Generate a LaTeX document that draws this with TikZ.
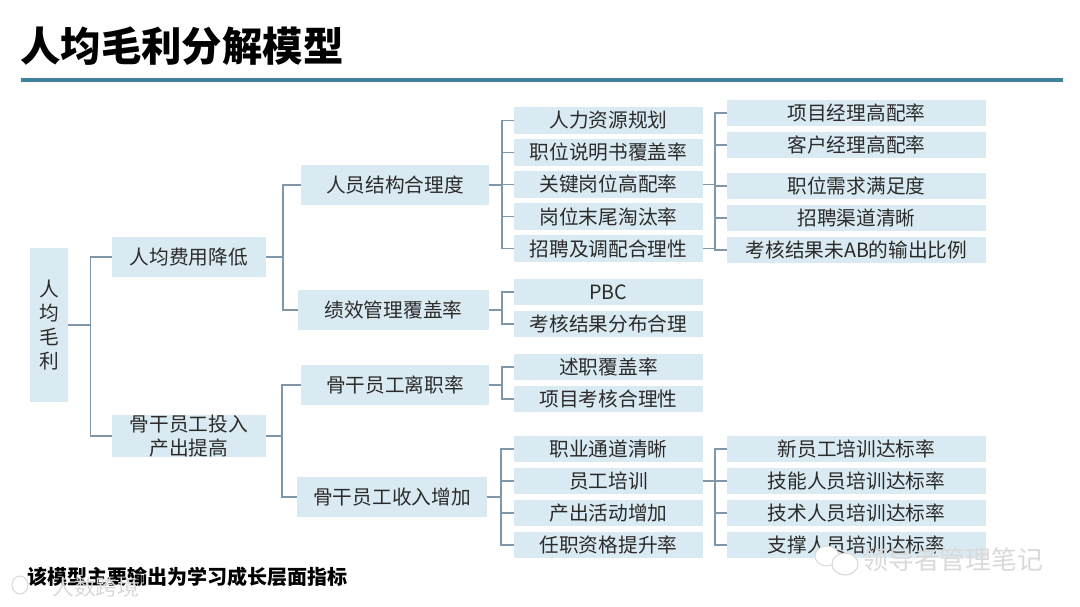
\documentclass[tikz,border=0pt]{standalone}
\usepackage{fontspec}
\setmainfont{Noto Sans CJK SC}
\usetikzlibrary{positioning}
\definecolor{boxblue}{HTML}{D9EAF2}
\definecolor{linkgray}{HTML}{7F97A8}
\definecolor{ruleteal}{HTML}{3F8299}
\definecolor{inkgray}{HTML}{2B2B2B}
\tikzset{
  box/.style={fill=boxblue, text=inkgray, font=\fontsize{11.2}{13.5}\selectfont, inner sep=0pt, align=center},
  leafa/.style={box, minimum width=107.1pt, minimum height=15.3pt},
  leafb/.style={box, minimum width=146.9pt, minimum height=15.3pt},
  midbox/.style={box, minimum height=22.7pt},
  link/.style={draw=linkgray, line width=0.75pt},
  wmark/.style={text=gray!30, inner sep=0pt, anchor=west},
  bubble/.style={draw=gray!30, fill=white, line width=0.6pt}
}
\begin{document}
\begin{tikzpicture}[x=0.02cm, y=-0.02cm]
\useasboundingbox (0,0) rectangle (1080,607);
\node[anchor=west, inner sep=0pt, font=\fontsize{23}{27}\selectfont\bfseries] (title) at (20,46) {人均毛利分解模型};
\coordinate (ruleL) at (21,80);
\coordinate (ruleR) at (1063,80);
\draw[ruleteal, line width=1.8pt] (ruleL) -- (ruleR);
% first columns
\node[box, minimum width=21.5pt, minimum height=87.3pt, font=\fontsize{11.2}{13.8}\selectfont] (root) at (49,325) {人\\均\\毛\\利};
\node[midbox, minimum width=87.3pt] (cost) at (189,257) {人均费用降低};
\node[midbox, minimum width=87.3pt] (core) at (189,436) {骨干员工投入\\产出提高};
\node[midbox, minimum width=106.6pt] (staff) at (395,185) {人员结构合理度};
\node[midbox, minimum width=108.3pt] (perf) at (393.5,310) {绩效管理覆盖率};
\node[midbox, minimum width=106.6pt] (quit) at (395,385) {骨干员工离职率};
\node[midbox, minimum width=107.7pt] (income) at (392,497) {骨干员工收入增加};
% third column
\node[leafa] (plan) at (608.5,120.5) {人力资源规划};
\node[leafa] (post) at (608.5,152.5) {职位说明书覆盖率};
\node[leafa] (key) at (608.5,184.5) {关键岗位高配率};
\node[leafa] (tail) at (608.5,216.5) {岗位末尾淘汰率};
\node[leafa] (hire) at (608.5,248.5) {招聘及调配合理性};
\node[leafa] (pbc) at (608.5,292) {PBC};
\node[leafa] (dist) at (608.5,324) {考核结果分布合理};
\node[leafa] (report) at (608.5,367) {述职覆盖率};
\node[leafa] (proj) at (608.5,399) {项目考核合理性};
\node[leafa] (path) at (608.5,449) {职业通道清晰};
\node[leafa] (train) at (608.5,481) {员工培训};
\node[leafa] (output) at (608.5,513) {产出活动增加};
\node[leafa] (grade) at (608.5,545) {任职资格提升率};
% fourth column
\node[leafb] (pm) at (856.5,113) {项目经理高配率};
\node[leafb] (am) at (856.5,145) {客户经理高配率};
\node[leafb] (need) at (856.5,186) {职位需求满足度};
\node[leafb] (channel) at (856.5,218) {招聘渠道清晰};
\node[leafb] (ratio) at (856.5,250) {考核结果未AB的输出比例};
\node[leafb] (newhire) at (856.5,449) {新员工培训达标率};
\node[leafb] (skill) at (856.5,481) {技能人员培训达标率};
\node[leafb] (tech) at (856.5,513) {技术人员培训达标率};
\node[leafb] (support) at (856.5,545) {支撑人员培训达标率};
\node[anchor=west, inner sep=0pt, font=\fontsize{11.4}{13.5}\selectfont\bfseries] (note) at (27,577) {该模型主要输出为学习成长层面指标};
% marks over the page
\node[wmark, font=\fontsize{12.4}{15}\selectfont] (markL) at (52,587) {人数跨境};
\node[wmark, font=\fontsize{14.7}{17}\selectfont] (markR) at (862,560) {领导者管理笔记};
\draw[bubble] (827,556) ellipse (12 and 10);
\draw[bubble] (845,564) ellipse (13 and 11);
\draw[bubble] (20,585) ellipse (8 and 9);
% connectors
\draw[link] (root.east) -- ++(22,0) |- (cost.west);
\draw[link] (root.east) -- ++(22,0) |- (core.west);
\draw[link] (cost.east) -- ++(17,0) |- (staff.west);
\draw[link] (cost.east) -- ++(17,0) |- (perf.west);
\draw[link] (core.east) -- ++(16,0) |- (quit.west);
\draw[link] (core.east) -- ++(16,0) |- (income.west);
\draw[link] (staff.east) -- ++(13,0) |- (plan.west);
\draw[link] (staff.east) -- ++(13,0) |- (post.west);
\draw[link] (staff.east) -- ++(13,0) |- (key.west);
\draw[link] (staff.east) -- ++(13,0) |- (tail.west);
\draw[link] (staff.east) -- ++(13,0) |- (hire.west);
\draw[link] (perf.east) -- ++(13,0) |- (pbc.west);
\draw[link] (perf.east) -- ++(13,0) |- (dist.west);
\draw[link] (quit.east) -- ++(13,0) |- (report.west);
\draw[link] (quit.east) -- ++(13,0) |- (proj.west);
\draw[link] (income.east) -- ++(14,0) |- (path.west);
\draw[link] (income.east) -- ++(14,0) |- (train.west);
\draw[link] (income.east) -- ++(14,0) |- (output.west);
\draw[link] (income.east) -- ++(14,0) |- (grade.west);
\draw[link] (key.east) -- ++(12,0) |- (pm.west);
\draw[link] (key.east) -- ++(12,0) |- (am.west);
\draw[link] (key.east) -- ++(12,0) |- (need.west);
\draw[link] (key.east) -- ++(12,0) |- (channel.west);
\draw[link] (hire.east) -- ++(12,0) |- (channel.west);
\draw[link] (hire.east) -- ++(12,0) |- (ratio.west);
\draw[link] (train.east) -- ++(12,0) |- (newhire.west);
\draw[link] (train.east) -- ++(12,0) |- (skill.west);
\draw[link] (train.east) -- ++(12,0) |- (tech.west);
\draw[link] (train.east) -- ++(12,0) |- (support.west);
\end{tikzpicture}
\end{document}
